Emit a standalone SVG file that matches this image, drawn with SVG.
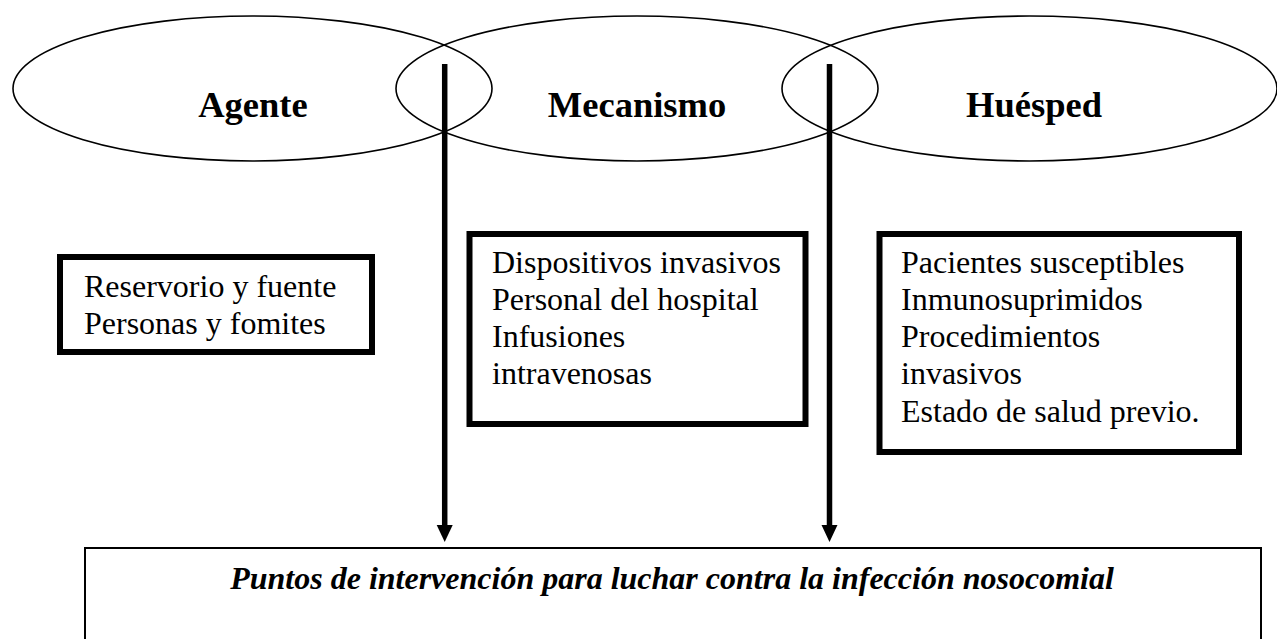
<svg xmlns="http://www.w3.org/2000/svg" width="1277" height="639" viewBox="0 0 1277 639">
<defs>
<style>
.ell{fill:none;stroke:#000;stroke-width:1.6}
.title{font-family:"Liberation Serif","Times New Roman",serif;font-weight:bold;font-size:36.5px;fill:#000;text-anchor:middle}
.body{font-family:"Liberation Serif","Times New Roman",serif;font-size:32px;fill:#000}
.box{fill:#fff;stroke:#000;stroke-width:6}
.main{fill:#fff;stroke:#000;stroke-width:2}
.conn{stroke:#000;stroke-width:5.5;fill:none}
.head{fill:#000}
.italic{font-family:"Liberation Serif","Times New Roman",serif;font-weight:bold;font-style:italic;font-size:32px;fill:#000;text-anchor:middle}
</style>
</defs>
<rect width="1277" height="639" fill="#fff"/>
<g id="agente">
<ellipse class="ell" cx="252.5" cy="88.5" rx="239.5" ry="72.5"/>
<text class="title" x="253" y="117">Agente</text>
</g>
<g id="mecanismo">
<ellipse class="ell" cx="637" cy="88.5" rx="241" ry="72.5"/>
<text class="title" x="637" y="117">Mecanismo</text>
</g>
<g id="huesped">
<ellipse class="ell" cx="1029.5" cy="88.5" rx="247.5" ry="72.5"/>
<text class="title" x="1034" y="117">Huésped</text>
</g>
<g id="box-agente">
<rect class="box" x="60" y="257" width="312" height="95"/>
<text class="body" x="84" y="297">Reservorio y fuente</text>
<text class="body" x="84" y="334">Personas y fomites</text>
</g>
<g id="box-mecanismo">
<rect class="box" x="469.5" y="234" width="336" height="190"/>
<text class="body" x="492" y="273">Dispositivos invasivos</text>
<text class="body" x="492" y="310">Personal del hospital</text>
<text class="body" x="492" y="347">Infusiones</text>
<text class="body" x="492" y="384">intravenosas</text>
</g>
<g id="box-huesped">
<rect class="box" x="879.5" y="234" width="359.5" height="218"/>
<text class="body" x="901" y="273">Pacientes susceptibles</text>
<text class="body" x="901" y="310">Inmunosuprimidos</text>
<text class="body" x="901" y="347">Procedimientos</text>
<text class="body" x="901" y="384">invasivos</text>
<text class="body" x="901" y="422">Estado de salud previo.</text>
</g>
<g id="puntos">
<rect class="main" x="85" y="548" width="1176" height="120"/>
<text class="italic" x="672" y="589">Puntos de intervención para luchar contra la infección nosocomial</text>
</g>
<g id="connectors">
<line class="conn" x1="444.7" y1="64" x2="444.7" y2="528"/>
<polygon class="head" points="436.7,525 452.7,525 444.7,542"/>
<line class="conn" x1="829.5" y1="64" x2="829.5" y2="528"/>
<polygon class="head" points="821.5,525 837.5,525 829.5,542"/>
</g>
</svg>
